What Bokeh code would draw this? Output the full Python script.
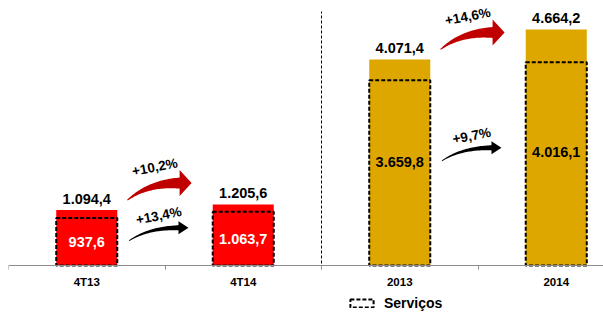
import numpy as np
from bokeh.plotting import figure
from bokeh.models import Range1d, FixedTicker, Legend, LegendItem, ColumnDataSource
from bokeh.core.properties import value
from bokeh.embed import file_html
from bokeh.resources import INLINE

# ---------------- data ----------------
categories = ["4T13", "4T14", "2013", "2014"]
totals = [1094.4, 1205.6, 4071.4, 4664.2]
services = [937.6, 1063.7, 3659.8, 4016.1]
total_labels = ["1.094,4", "1.205,6", "4.071,4", "4.664,2"]
service_labels = ["937,6", "1.063,7", "3.659,8", "4.016,1"]
growth_total = ["+10,2%", "+14,6%"]
growth_services = ["+13,4%", "+9,7%"]
bar_colors = ["#FF0000", "#FF0000", "#DEA700", "#DEA700"]
service_text_colors = ["white", "white", "black", "black"]

# ---------------- layout ----------------
FONT = "Liberation Sans"
FW, FH = 595, 306
BASE = 257                  # px from frame top to the category axis
SCALE = 0.0506              # px per unit
XPX = 156.5                 # px per category
XMIN = -0.5
XMAX = XMIN + FW / XPX
YMIN = -(FH - BASE) / SCALE
YMAX = BASE / SCALE
PXX = FW / (XMAX - XMIN)
PXY = FH / (YMAX - YMIN)

p = figure(frame_width=FW, frame_height=FH,
           x_range=Range1d(XMIN, XMAX), y_range=Range1d(YMIN, YMAX),
           output_backend="svg", toolbar_location=None,
           min_border_left=8, min_border_top=8, min_border_right=0, min_border_bottom=0,
           outline_line_color=None, background_fill_color="white")
p.yaxis.visible = False
p.xgrid.grid_line_color = None
p.ygrid.grid_line_color = None

ax = p.xaxis[0]
ax.fixed_location = 0
ax.ticker = FixedTicker(ticks=[0, 1, 2, 3], minor_ticks=[-0.5, 0.5, 1.5, 2.5])
ax.major_label_overrides = {i: c for i, c in enumerate(categories)}
ax.major_tick_line_color = None
ax.major_tick_out = 0
ax.major_tick_in = 0
ax.minor_tick_line_color = "#8c8c8c"
ax.minor_tick_out = 4
ax.minor_tick_in = 0
ax.axis_line_color = "#8c8c8c"
ax.major_label_text_font = FONT
ax.major_label_text_font_size = "11.5px"
ax.major_label_text_font_style = "bold"
ax.major_label_text_color = "black"
ax.major_label_standoff = 6

xs = list(range(len(categories)))
inner_y = [s * (0.5 if i < 2 else 0.56) for i, s in enumerate(services)]
src = ColumnDataSource(dict(x=xs, total=totals, serv=services, color=bar_colors,
                            tl=total_labels, sl=service_labels, sy=inner_y,
                            sc=service_text_colors))

p.vbar(x="x", top="total", width=0.39, fill_color="color", line_color=None, source=src)
serv_r = p.vbar(x="x", top="serv", width=0.39, fill_alpha=0, line_color="black",
                line_dash="4 2", line_width=2, source=src)

p.text(x="x", y="total", text="tl", source=src, text_align="center", text_baseline="bottom",
       y_offset=-6, text_font=value(FONT), text_font_size="14.5px", text_font_style="bold",
       text_color="black")
p.text(x="x", y="sy", text="sl", source=src, text_align="center", text_baseline="middle",
       text_font=value(FONT), text_font_size="14.5px", text_font_style="bold",
       text_color="sc")

# separator between quarterly and annual
p.segment(x0=[1.5], y0=[-3 / PXY], x1=[1.5], y1=[(BASE - 3) / PXY],
          line_color="black", line_dash="3 2", line_width=1)


def arrow(x0, y0, x1, y1, w0, w1, hh, hl):
    sx0, sy0, sx1, sy1 = x0 * PXX, y0 * PXY, x1 * PXX, y1 * PXY
    bx, by = sx1 - hl, sy1
    cx, cy = sx0 + 0.4 * (bx - sx0), by
    t = np.linspace(0, 1, 40)
    px = (1 - t) ** 2 * sx0 + 2 * (1 - t) * t * cx + t ** 2 * bx
    py = (1 - t) ** 2 * sy0 + 2 * (1 - t) * t * cy + t ** 2 * by
    dx = 2 * (1 - t) * (cx - sx0) + 2 * t * (bx - cx)
    dy = 2 * (1 - t) * (cy - sy0) + 2 * t * (by - cy)
    L = np.hypot(dx, dy)
    nx, ny = -dy / L, dx / L
    w = w0 + (w1 - w0) * t
    ux, uy = px + nx * w, py + ny * w
    lx, ly = px - nx * w, py - ny * w
    hx = [bx + nx[-1] * hh, sx1, bx - nx[-1] * hh]
    hy = [by + ny[-1] * hh, sy1, by - ny[-1] * hh]
    X = np.concatenate([ux, hx, lx[::-1]]) / PXX
    Y = np.concatenate([uy, hy, ly[::-1]]) / PXY
    return X, Y


for k, i in enumerate([0, 2]):
    # total growth arrow (red)
    x0, x1 = i + 0.26, i + 0.67
    y0 = totals[i] + 10 / PXY
    y1 = totals[i] + 27 / PXY
    X, Y = arrow(x0, y0, x1, y1, 0.5, 5.5, 13, 12)
    p.patch(X, Y, fill_color="#C00000", line_color=None)
    p.text(x=[(x0 + x1) / 2 - 0.03], y=[y1 + 16 / PXY], text=[growth_total[k]],
           angle=0.19, text_align="center", text_baseline="middle",
           text_font=value(FONT), text_font_size="13.5px", text_font_style="bold",
           text_color="black")
    # services growth arrow (black)
    ly = inner_y[i]
    bx0, bx1 = i + 0.27, i + 0.65
    by0 = ly + 1 / PXY
    by1 = ly + 14 / PXY
    X, Y = arrow(bx0, by0, bx1, by1, 0.4, 2.5, 6.5, 10)
    p.patch(X, Y, fill_color="black", line_color=None)
    p.text(x=[(bx0 + bx1) / 2], y=[by1 + 12 / PXY], text=[growth_services[k]],
           angle=0.19, text_align="center", text_baseline="middle",
           text_font=value(FONT), text_font_size="13.5px", text_font_style="bold",
           text_color="black")

legend = Legend(items=[LegendItem(label="Serviços", renderers=[serv_r])],
                location=(339, 3), orientation="horizontal",
                glyph_width=29, glyph_height=10, label_standoff=8, label_height=14,
                label_text_font=FONT, label_text_font_size="14px",
                label_text_font_style="bold", label_text_color="black",
                border_line_color=None, background_fill_alpha=0,
                padding=0, margin=0, spacing=0)
p.add_layout(legend, "center")

open("out.html", "w").write(file_html(p, INLINE))
